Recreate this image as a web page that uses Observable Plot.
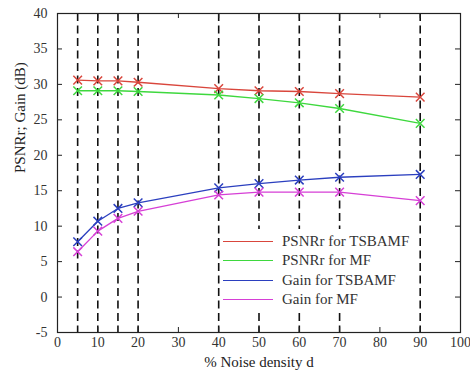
<!DOCTYPE html>
<html>
<head>
<meta charset="utf-8">
<script src="https://cdn.jsdelivr.net/npm/d3@7"></script>
<script src="https://cdn.jsdelivr.net/npm/@observablehq/plot@0.6"></script>
<style>
  body { margin: 0; background: #fff; }
  #wrap { position: relative; width: 470px; height: 375px; overflow: hidden; }
  #wrap svg, #wrap svg text { font-family: "Liberation Serif", "Times New Roman", "DejaVu Serif", serif !important; }
  #legend { position: absolute; left: 220px; top: 229px; width: 196px; height: 80px; background: #fff;
            font-family: "Liberation Serif", "Times New Roman", "DejaVu Serif", serif; font-size: 15px; color: #333; }
  .row { position: absolute; left: 0; height: 19px; width: 196px; }
  .sw { position: absolute; left: 3px; width: 50px; top: 9px; height: 0; border-top: 1.5px solid; }
  .lbl { position: absolute; left: 62px; top: 0; line-height: 19px; white-space: nowrap; }
</style>
</head>
<body>
<div id="wrap"></div>
<script>
const noise = [5, 10, 15, 20, 40, 50, 60, 70, 90];
const psnrTSBAMF = [30.6, 30.5, 30.5, 30.3, 29.4, 29.1, 29.0, 28.7, 28.2];
const psnrMF = [29.1, 29.1, 29.1, 29.0, 28.5, 28.0, 27.4, 26.6, 24.5];
const gainTSBAMF = [7.8, 10.7, 12.5, 13.3, 15.4, 16.0, 16.5, 16.9, 17.3];
const gainMF = [6.4, 9.3, 11.1, 12.1, 14.4, 14.8, 14.8, 14.8, 13.6];
const seriesNames = ["PSNRr for TSBAMF", "PSNRr for MF", "Gain for TSBAMF", "Gain for MF"];
const seriesColors = ["#d9463c", "#3ed83e", "#2b3fbf", "#d63fd6"];
const xTicks = [0, 10, 20, 30, 40, 50, 60, 70, 80, 90, 100];
const yTicks = [-5, 0, 5, 10, 15, 20, 25, 30, 35, 40];
const xLabel = "% Noise density d";
const yLabel = "PSNRr; Gain (dB)";

const allSeries = [psnrTSBAMF, psnrMF, gainTSBAMF, gainMF];
const data = [];
allSeries.forEach((vals, i) => vals.forEach((v, j) => data.push({series: seriesNames[i], x: noise[j], y: v})));

const W = 470, H = 375, mL = 57, mR = 10, mT = 13, mB = 43;
const fw = W - mL - mR, fh = H - mT - mB;
const tl = 5;
const serif = "'Liberation Serif', 'Times New Roman', 'DejaVu Serif', serif";

const chart = Plot.plot({
  width: W, height: H,
  marginLeft: mL, marginRight: mR, marginTop: mT, marginBottom: mB,
  style: {fontFamily: serif, fontSize: "14px", color: "#333", background: "#fff"},
  x: {domain: [0, 100]},
  y: {domain: [-5, 40]},
  color: {domain: seriesNames, range: seriesColors},
  marks: [
    Plot.ruleX(noise, {x: d => d, stroke: "#111", strokeWidth: 1.6, strokeDasharray: "8,4.5"}),
    Plot.tickX(xTicks, {x: d => d, insetTop: fh - tl, stroke: "#222"}),
    Plot.tickX(xTicks, {x: d => d, insetBottom: fh - tl, stroke: "#222"}),
    Plot.tickY(yTicks, {y: d => d, insetRight: fw - tl, stroke: "#222"}),
    Plot.tickY(yTicks, {y: d => d, insetLeft: fw - tl, stroke: "#222"}),
    Plot.frame({stroke: "#222", strokeWidth: 1.2}),
    Plot.axisX({ticks: xTicks, tickSize: 0, tickPadding: 5, label: null, fill: "#333", tickFormat: d => String(d), fontSize: 14}),
    Plot.axisY({ticks: yTicks, tickSize: 0, tickPadding: 10, label: null, fill: "#333", tickFormat: d => String(d), fontSize: 14}),
    Plot.line(data, {x: "x", y: "y", z: "series", stroke: "series", strokeWidth: 1.3}),
    Plot.dot(data, {x: "x", y: "y", stroke: "series", symbol: "times", r: 4, strokeWidth: 1.5}),
    Plot.text([xLabel], {text: d => d, frameAnchor: "bottom", dy: 34, fontSize: 15, fill: "#222"}),
    Plot.text([yLabel], {text: d => d, frameAnchor: "left", dx: -37, rotate: -90, fontSize: 15, fill: "#222"})
  ]
});
const wrap = document.getElementById("wrap");
wrap.appendChild(chart);

const legend = document.createElement("div");
legend.id = "legend";
seriesNames.forEach((name, i) => {
  const row = document.createElement("div");
  row.className = "row";
  row.style.top = (3 + i * 19.3) + "px";
  const sw = document.createElement("div");
  sw.className = "sw";
  sw.style.borderTopColor = seriesColors[i];
  const lbl = document.createElement("div");
  lbl.className = "lbl";
  lbl.textContent = name;
  row.appendChild(sw); row.appendChild(lbl);
  legend.appendChild(row);
});
wrap.appendChild(legend);
</script>
</body>
</html>
